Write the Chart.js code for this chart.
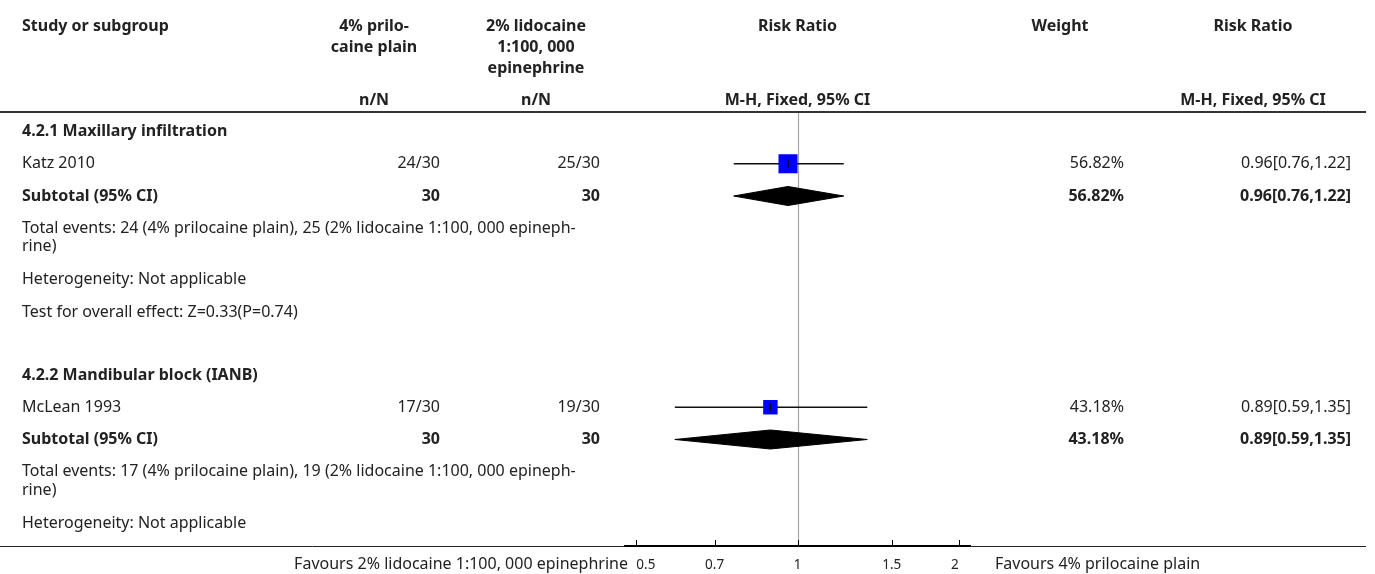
<!DOCTYPE html>
<html>
<head>
<meta charset="utf-8">
<title>Forest plot: 4% prilocaine plain vs 2% lidocaine 1:100, 000 epinephrine</title>
<script src="https://cdn.jsdelivr.net/npm/chart.js@4.4.1/dist/chart.umd.min.js"></script>
<style>
  html, body { margin: 0; padding: 0; background: #fff; }
  #forest { display: block; }
</style>
</head>
<body>
<canvas id="forest" width="1375" height="574"></canvas>
<script>
// comparison 4.2 data
const armA = '4% prilocaine plain';
const armB = '2% lidocaine 1:100, 000 epinephrine';
const groups = ['4.2.1 Maxillary infiltration', '4.2.2 Mandibular block (IANB)'];
const studies = ['Katz 2010', 'McLean 1993'];
const eventsA = [24, 17];
const totalA = [30, 30];
const eventsB = [25, 19];
const totalB = [30, 30];
const riskRatio = [0.96, 0.89];
const ciLow = [0.76, 0.59];
const ciHigh = [1.22, 1.35];
const weights = [56.82, 43.18];
const overallZ = [0.33, null];
const overallP = [0.74, null];
const xTicks = [0.5, 0.7, 1, 1.5, 2];

const FONT = '"Noto Sans", sans-serif';
const TEXT = '#222';

// row layout, in row units (one row = one line of the table)
const rows = [];
let pos = 0;
groups.forEach((g, i) => {
  rows.push({ kind: 'group', i, y: pos }); pos += 1;
  rows.push({ kind: 'study', i, y: pos }); pos += 1;
  rows.push({ kind: 'subtotal', i, y: pos }); pos += 1;
  rows.push({ kind: 'events', i, y: pos }); pos += 1.6;
  rows.push({ kind: 'het', i, y: pos }); pos += 1;
  if (overallZ[i] !== null) { rows.push({ kind: 'test', i, y: pos }); pos += 1; }
  pos += 0.95;
});
const rowOf = (kind, i) => rows.find(r => r.kind === kind && r.i === i).y;

// study squares sized by weight
const boxRadius = weights.map(w => w * 0.335 / Math.SQRT2);

const datasets = [];
// tick through the middle of each square
datasets.push({
  data: studies.map((s, i) => ({ x: riskRatio[i], y: rowOf('study', i) })),
  pointStyle: 'line', rotation: 90, pointRadius: 4,
  borderColor: '#000', borderWidth: 1.5, showLine: false
});
datasets.push({
  data: studies.map((s, i) => ({ x: riskRatio[i], y: rowOf('study', i) })),
  pointStyle: 'rect', pointRadius: boxRadius,
  backgroundColor: '#0000ff', borderWidth: 0, showLine: false
});
studies.forEach((s, i) => {
  const y = rowOf('study', i);
  datasets.push({
    data: [{ x: ciLow[i], y }, { x: ciHigh[i], y }],
    showLine: true, borderColor: '#111', borderWidth: 1.3, pointRadius: 0
  });
});
// subtotal diamonds
groups.forEach((g, i) => {
  const y = rowOf('subtotal', i);
  const h = 0.295;
  datasets.push({
    data: [
      { x: ciLow[i], y }, { x: riskRatio[i], y: y - h },
      { x: ciHigh[i], y }, { x: riskRatio[i], y: y + h }, { x: ciLow[i], y }
    ],
    showLine: true, fill: 'shape', tension: 0,
    borderColor: '#000', backgroundColor: '#000', borderWidth: 1, pointRadius: 0
  });
});

function txt(ctx, s, x, y, align, bold, size) {
  ctx.font = (bold ? 'bold ' : '') + (size || 16) + 'px ' + FONT;
  ctx.textAlign = align;
  ctx.fillText(s, x, y);
}

const tablePlugin = {
  id: 'table',
  beforeDatasetsDraw(chart) {
    const { ctx, scales: { x }, chartArea } = chart;
    const x1 = Math.round(x.getPixelForValue(1)) + 0.5;
    ctx.save();
    ctx.strokeStyle = '#a6a6a6';
    ctx.lineWidth = 1.2;
    ctx.beginPath();
    ctx.moveTo(x1, chartArea.top);
    ctx.lineTo(x1, chartArea.bottom);
    ctx.stroke();
    ctx.restore();
  },
  afterDraw(chart) {
    const { ctx, scales: { x, y }, chartArea } = chart;
    ctx.save();
    ctx.fillStyle = TEXT;
    ctx.textBaseline = 'middle';

    const colStudy = 22, colA = 440, colB = 600, colW = 1124, colRR = 1351;
    const hdA = 374, hdB = 536, hdW = 1060, hdRR = 1253;
    const hdF = x.getPixelForValue(1);

    // header
    txt(ctx, 'Study or subgroup', colStudy, 26, 'left', true);
    txt(ctx, '4% prilo-', hdA, 26, 'center', true);
    txt(ctx, 'caine plain', hdA, 47, 'center', true);
    txt(ctx, '2% lidocaine', hdB, 26, 'center', true);
    txt(ctx, '1:100, 000', hdB, 47, 'center', true);
    txt(ctx, 'epinephrine', hdB, 68, 'center', true);
    txt(ctx, 'Risk Ratio', hdF, 26, 'center', true);
    txt(ctx, 'Weight', hdW, 26, 'center', true);
    txt(ctx, 'Risk Ratio', hdRR, 26, 'center', true);
    txt(ctx, 'n/N', hdA, 100, 'center', true);
    txt(ctx, 'n/N', hdB, 100, 'center', true);
    txt(ctx, 'M-H, Fixed, 95% CI', hdF, 100, 'center', true);
    txt(ctx, 'M-H, Fixed, 95% CI', hdRR, 100, 'center', true);

    ctx.strokeStyle = '#333';
    ctx.lineWidth = 2;
    ctx.beginPath();
    ctx.moveTo(0, chartArea.top);
    ctx.lineTo(1366, chartArea.top);
    ctx.stroke();

    const ci = i => riskRatio[i].toFixed(2) + '[' + ciLow[i].toFixed(2) + ',' + ciHigh[i].toFixed(2) + ']';

    rows.forEach(r => {
      const py = y.getPixelForValue(r.y);
      const i = r.i;
      if (r.kind === 'group') {
        txt(ctx, groups[i], colStudy, py, 'left', true);
      } else if (r.kind === 'study') {
        txt(ctx, studies[i], colStudy, py, 'left', false);
        txt(ctx, eventsA[i] + '/' + totalA[i], colA, py, 'right', false);
        txt(ctx, eventsB[i] + '/' + totalB[i], colB, py, 'right', false);
        txt(ctx, weights[i].toFixed(2) + '%', colW, py, 'right', false);
        txt(ctx, ci(i), colRR, py, 'right', false);
      } else if (r.kind === 'subtotal') {
        txt(ctx, 'Subtotal (95% CI)', colStudy, py, 'left', true);
        txt(ctx, String(totalA[i]), colA, py, 'right', true);
        txt(ctx, String(totalB[i]), colB, py, 'right', true);
        txt(ctx, weights[i].toFixed(2) + '%', colW, py, 'right', true);
        txt(ctx, ci(i), colRR, py, 'right', true);
      } else if (r.kind === 'events') {
        const full = 'Total events: ' + eventsA[i] + ' (' + armA + '), ' + eventsB[i] + ' (' + armB + ')';
        const cut = full.lastIndexOf('rine)');
        txt(ctx, full.slice(0, cut) + '-', colStudy, py, 'left', false);
        txt(ctx, full.slice(cut), colStudy, y.getPixelForValue(r.y + 0.57), 'left', false);
      } else if (r.kind === 'het') {
        txt(ctx, 'Heterogeneity: Not applicable', colStudy, py, 'left', false);
      } else if (r.kind === 'test') {
        txt(ctx, 'Test for overall effect: Z=' + overallZ[i] + '(P=' + overallP[i] + ')', colStudy, py, 'left', false);
      }
    });

    // bottom rule either side of the axis, tick marks above it
    const by = chartArea.bottom + 0.5;
    ctx.strokeStyle = '#222';
    ctx.lineWidth = 1;
    ctx.beginPath();
    ctx.moveTo(0, by); ctx.lineTo(chartArea.left, by);
    ctx.moveTo(chartArea.right, by); ctx.lineTo(1366, by);
    ctx.stroke();
    ctx.strokeStyle = '#000';
    ctx.beginPath();
    xTicks.forEach(v => {
      const px = Math.round(x.getPixelForValue(v)) + 0.5;
      ctx.moveTo(px, chartArea.bottom - 6);
      ctx.lineTo(px, chartArea.bottom);
    });
    ctx.stroke();

    txt(ctx, 'Favours ' + armB, chartArea.left + 3, 564, 'right', false);
    txt(ctx, 'Favours ' + armA, chartArea.right + 25, 564, 'left', false);
    ctx.restore();
  }
};

new Chart(document.getElementById('forest'), {
  type: 'scatter',
  data: { datasets },
  options: {
    responsive: false,
    animation: false,
    layout: { padding: { left: 625, right: 405, top: 112, bottom: 0 } },
    plugins: { legend: { display: false }, tooltip: { enabled: false } },
    scales: {
      x: {
        type: 'logarithmic',
        min: 1 / 2.1,
        max: 2.1,
        afterBuildTicks: s => { s.ticks = xTicks.map(v => ({ value: v })); },
        afterFit: s => { s.height = 28; },
        grid: { display: false },
        border: { display: true, color: '#000', width: 2 },
        ticks: {
          align: 'inner',
          padding: 3,
          color: TEXT,
          font: { family: FONT, size: 13.5 },
          callback: v => String(v)
        }
      },
      y: {
        type: 'linear',
        display: false,
        reverse: true,
        min: -0.605,
        max: -0.605 + 434 / 32.25
      }
    }
  },
  plugins: [tablePlugin]
});
</script>
</body>
</html>
